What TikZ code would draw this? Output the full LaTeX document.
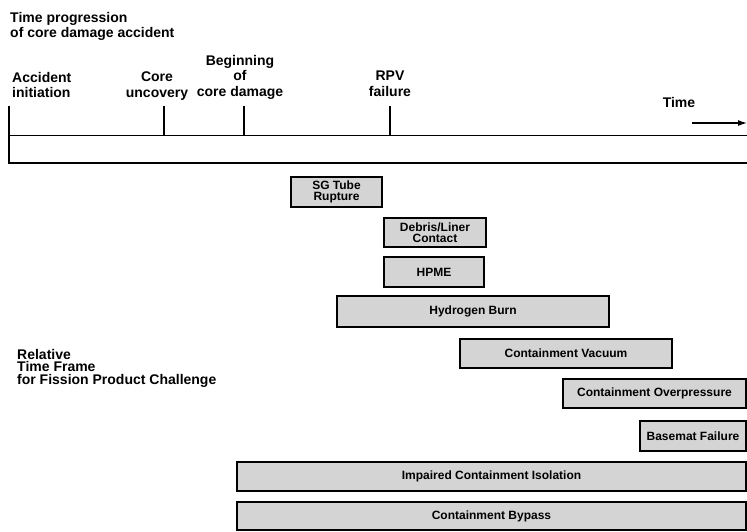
\documentclass[tikz,border=0pt]{standalone}
\usepackage{fontspec}
\setmainfont{Liberation Sans}
\usetikzlibrary{arrows.meta}
\begin{document}
\begin{tikzpicture}[x=1pt,y=-1pt,
        lbl/.style={inner sep=0pt, anchor=north, align=center, font=\bfseries\fontsize{14}{15.5}\selectfont},
        evbox/.style={draw=black, line width=1.3pt, fill=black!17, inner sep=0pt, align=center, font=\bfseries\fontsize{12}{10.5}\selectfont},
        tick/.style={black, line width=1.5pt}]
    \useasboundingbox (0,0) rectangle (747,531);

    % time axis
    \draw [tick] (9,106) -- (9,163) -- (752,163);
    \draw [black, line width=1pt] (9,135) -- (752,135);
    \foreach \x in {164,244,390} {
        \draw [tick] (\x,106) -- (\x,135);
    }
    \coordinate (tstart) at (692,123);
    \coordinate (tend) at (747,123);
    \draw [black, line width=1.2pt, -{Latex[length=9pt,width=6pt]}] (tstart) -- (tend);

    % labels of the axis
    \node[lbl, anchor=north west, align=left] (title) at (10,12) {Time progression\\of core damage accident};
    \node[lbl, anchor=north west, align=left] (accinit) at (12,72) {Accident\\initiation};
    \node[lbl] (coreunc) at (157,72) {Core\\uncovery};
    \node[lbl] (begdam) at (240,55) {Beginning\\of\\core damage};
    \node[lbl] (rpvfail) at (390,71) {RPV\\failure};
    \node[lbl] (time) at (679,97) {Time};
    \node[lbl, anchor=north west, align=left, font=\bfseries\fontsize{14}{12.5}\selectfont] (relframe) at (17,349) {Relative\\Time Frame\\for Fission Product Challenge};

    % challenges
    \node[evbox, minimum width=91pt, minimum height=30pt] (sgtube) at (336.5,192) {SG Tube\\Rupture};
    \node[evbox, minimum width=102pt, minimum height=29pt] (debris) at (435,232.5) {Debris/Liner\\Contact};
    \node[evbox, minimum width=100pt, minimum height=30pt] (hpme) at (434,272) {HPME};
    \node[evbox, minimum width=272pt, minimum height=31pt] (hburn) at (473,311.5) {Hydrogen Burn};
    \node[evbox, minimum width=212pt, minimum height=29pt] (cvacuum) at (566,353.5) {Containment Vacuum};
    \node[evbox, minimum width=183pt, minimum height=29pt] (coverp) at (654.5,393.5) {Containment Overpressure};
    \node[evbox, minimum width=106pt, minimum height=30pt] (basemat) at (693,436) {Basemat Failure};
    \node[evbox, minimum width=509pt, minimum height=29pt] (impiso) at (491.5,476.5) {Impaired Containment Isolation};
    \node[evbox, minimum width=509pt, minimum height=28pt] (bypass) at (491.5,516) {Containment Bypass};
\end{tikzpicture}
\end{document}
